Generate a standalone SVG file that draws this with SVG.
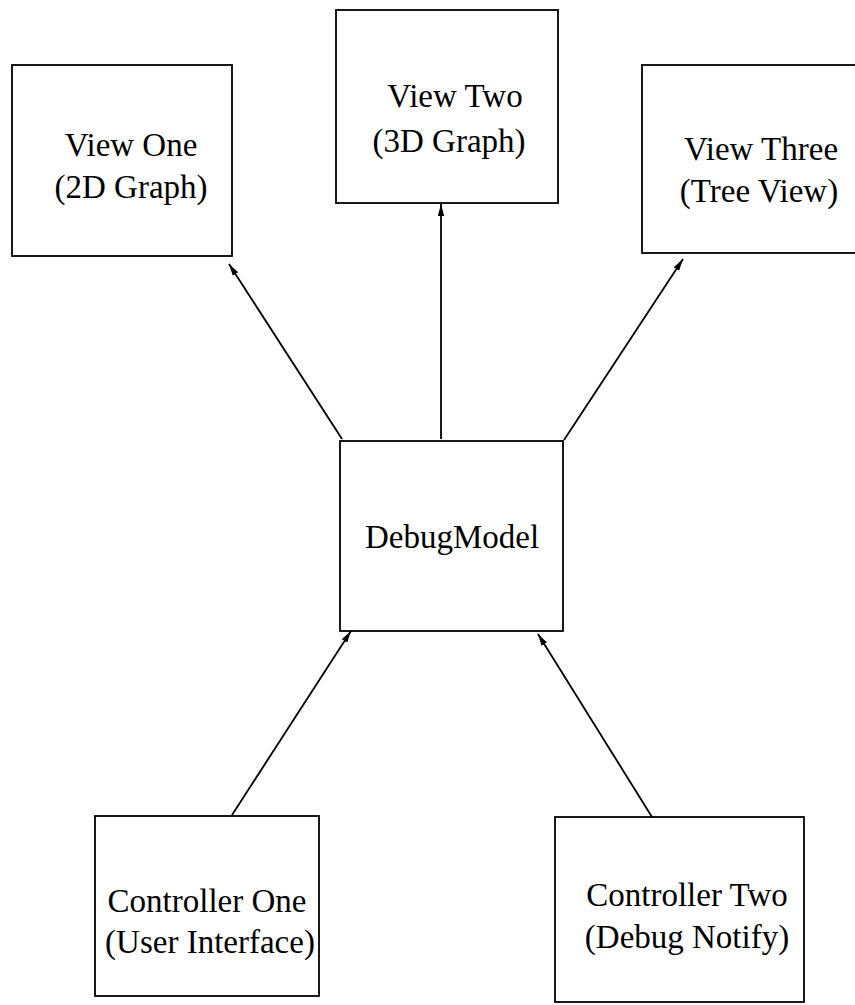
<svg xmlns="http://www.w3.org/2000/svg" width="855" height="1005" viewBox="0 0 855 1005">
<style>
.box{fill:#fff;stroke:#000;stroke-width:1.8}
.lbl{font-family:"Liberation Serif","Times New Roman",serif;font-size:33px;fill:#000;text-anchor:middle}
.edge{stroke:#000;stroke-width:1.8;fill:none;marker-end:url(#ah)}
</style>
<defs>
<marker id="ah" viewBox="0 0 12 8" refX="12" refY="4" markerWidth="12" markerHeight="8" markerUnits="userSpaceOnUse" orient="auto">
<path d="M0,0.8 L12,4 L0,7.2 Z" fill="#000"/>
</marker>
</defs>
<rect width="855" height="1005" fill="#fff"/>
<g id="connectors">
<line class="edge" x1="342" y1="439" x2="229" y2="264"/>
<line class="edge" x1="441" y1="439" x2="441" y2="204"/>
<line class="edge" x1="564" y1="440" x2="683" y2="259"/>
<line class="edge" x1="232" y1="815" x2="351" y2="631"/>
<line class="edge" x1="652" y1="817" x2="538" y2="634"/>
</g>
<g id="view-one">
<rect class="box" x="12" y="65" width="220" height="191"/>
<text class="lbl" x="131" y="156">View One</text>
<text class="lbl" x="131" y="198">(2D Graph)</text>
</g>
<g id="view-two">
<rect class="box" x="336" y="10" width="222" height="193"/>
<text class="lbl" x="455" y="107">View Two</text>
<text class="lbl" x="449" y="152">(3D Graph)</text>
</g>
<g id="view-three">
<rect class="box" x="642" y="65" width="220" height="188"/>
<text class="lbl" x="761" y="160">View Three</text>
<text class="lbl" x="759" y="202">(Tree View)</text>
</g>
<g id="debug-model">
<rect class="box" x="340" y="441" width="223" height="190"/>
<text class="lbl" x="452" y="548">DebugModel</text>
</g>
<g id="controller-one">
<rect class="box" x="95" y="816" width="224" height="180"/>
<text class="lbl" x="207" y="912">Controller One</text>
<text class="lbl" x="210" y="953">(User Interface)</text>
</g>
<g id="controller-two">
<rect class="box" x="555" y="817" width="249" height="185"/>
<text class="lbl" x="687" y="906">Controller Two</text>
<text class="lbl" x="687" y="948">(Debug Notify)</text>
</g>
</svg>
